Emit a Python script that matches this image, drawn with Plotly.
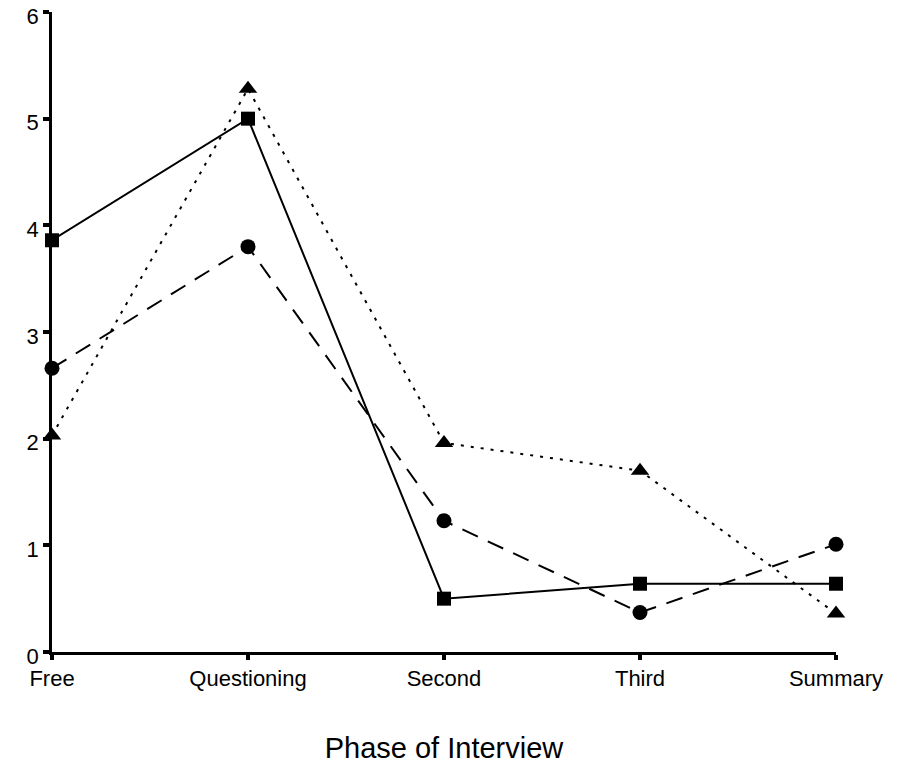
import plotly.graph_objects as go

phases = ["Free", "Questioning", "Second", "Third", "Summary"]
squares = [3.86, 5.0, 0.5, 0.64, 0.64]
circles = [2.66, 3.8, 1.23, 0.37, 1.01]
triangles = [2.03, 5.28, 1.96, 1.7, 0.36]
y_ticks = [0, 1, 2, 3, 4, 5, 6]

xpos = list(range(len(phases)))
FONT = "Liberation Sans, Arial, sans-serif"

fig = go.Figure()
fig.add_trace(go.Scatter(
    x=xpos, y=triangles, mode="lines+markers", cliponaxis=False,
    line=dict(color="black", width=2, dash="3px,7px"),
    marker=dict(symbol="triangle-up", size=16, color="black"),
    showlegend=False))
fig.add_trace(go.Scatter(
    x=xpos, y=circles, mode="lines+markers", cliponaxis=False,
    line=dict(color="black", width=2, dash="17px,11px"),
    marker=dict(symbol="circle", size=15, color="black"),
    showlegend=False))
fig.add_trace(go.Scatter(
    x=xpos, y=squares, mode="lines+markers", cliponaxis=False,
    line=dict(color="black", width=2),
    marker=dict(symbol="square", size=14, color="black"),
    showlegend=False))

fig.update_layout(
    width=913, height=765,
    margin=dict(l=52, r=77, t=12, b=113),
    paper_bgcolor="white", plot_bgcolor="white",
    font=dict(family=FONT, color="black", size=22),
)
fig.update_xaxes(
    range=[0, 4], tickvals=xpos, ticktext=phases, automargin=False,
    showgrid=False, zeroline=False, ticklabeloverflow="allow",
    showline=True, linecolor="black", linewidth=2.5,
    ticks="outside", ticklen=5, tickwidth=4, tickcolor="black",
    tickfont=dict(size=22, family=FONT),
    title=dict(text="Phase of Interview", font=dict(size=29, family=FONT), standoff=48),
)
fig.update_yaxes(
    range=[0, 6], tickvals=y_ticks, automargin=False,
    showgrid=False, zeroline=False, ticklabeloverflow="allow",
    ticklabelshift=4,
    showline=True, linecolor="black", linewidth=2.5,
    ticks="outside", ticklen=6, tickwidth=4, tickcolor="black",
    tickfont=dict(size=22, family=FONT),
)
fig.write_html(
    "out.html",
    config={"displayModeBar": False},
    post_script="document.body.style.margin='0';",
)
